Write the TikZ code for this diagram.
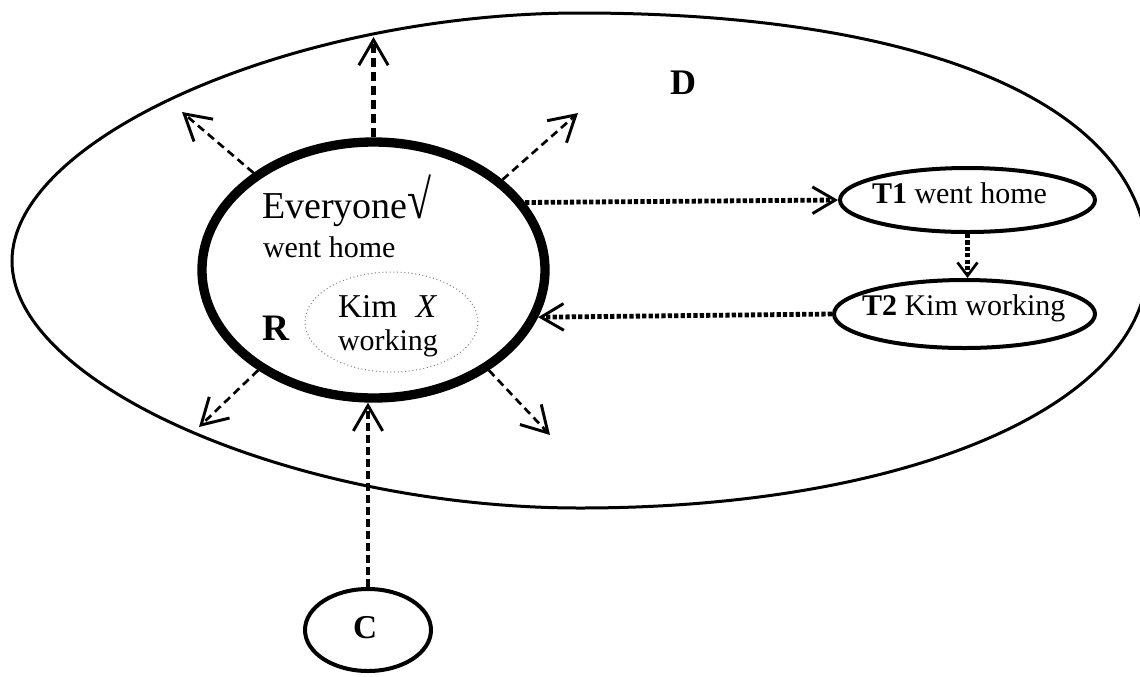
\documentclass[tikz,border=0pt]{standalone}
\usepackage{fontspec}
\setmainfont{Liberation Serif}
\usetikzlibrary{arrows.meta,shapes.geometric}
\begin{document}
\begin{tikzpicture}[x=0.75pt,y=-0.75pt,
  oval/.style={draw, ellipse, inner sep=0pt},
  lbl/.style={anchor=base west, inner sep=0pt, outer sep=0pt},
  bigbarb/.style={-{Straight Barb[length=19pt,width=22pt,line width=2.2pt]}},
  ray/.style={bigbarb, line width=2pt, dash pattern=on 6pt off 3.75pt},
  rayup/.style={bigbarb, line width=3.2pt, dash pattern=on 7pt off 3.5pt},
  rayc/.style={bigbarb, line width=2.3pt, dash pattern=on 6pt off 3pt},
  dotarrow/.style={-{Straight Barb[length=17pt,width=20pt,line width=2.2pt]}, line width=3.6pt, dash pattern=on 3.2pt off 1.6pt},
  dotshort/.style={-{Straight Barb[length=10pt,width=15pt,line width=2pt]}, line width=3.6pt, dash pattern=on 3.2pt off 1.6pt},
  txtA/.style={font=\fontsize{22.5}{24}\selectfont},
]
\useasboundingbox (0,0) rectangle (1140,676);
\fill[white] (0,0) rectangle (1140,676);

% outer region D
\begin{scope}
\clip (0,0) rectangle (1140,676);
\draw[line width=2.25pt]
  (12,261) .. controls (12,137) and (296,13) .. (580,13)
  .. controls (932,13) and (1148,108) .. (1148,263)
  .. controls (1148,405) and (909,508) .. (580,508)
  .. controls (296,508) and (12,385) .. (12,261) -- cycle;
\end{scope}

% nodes
\node[oval, line width=7pt, minimum width=257.25pt, minimum height=192pt] (R) at (373.5,270) {};
\node[oval, draw=gray, dotted, line width=0.75pt, minimum width=129.75pt, minimum height=75pt] (K) at (391.5,322) {};
\node[oval, line width=3pt, minimum width=191.25pt, minimum height=48pt] (T1) at (967.5,200) {};
\node[oval, line width=3pt, minimum width=195.75pt, minimum height=51pt] (T2) at (964.5,314) {};
\node[oval, line width=3pt, minimum width=94.5pt, minimum height=61.5pt] (C) at (368,630) {};

% labels
\node[lbl, font=\fontsize{28.5}{30}\selectfont] (ev) at (262,218) {Everyone\scalebox{1.15}[1.45]{\bfseries √}};
\node[lbl, txtA] (wh) at (263,257) {went home};
\node[lbl, font=\bfseries\fontsize{28}{30}\selectfont] (Rl) at (262,340) {R};
\node[lbl, font=\fontsize{25}{26}\selectfont] (kim) at (338,317) {Kim\hspace{14pt}\textit{X}};
\node[lbl, txtA] (wk) at (338,350) {working};
\node[lbl, font=\bfseries\fontsize{27}{29}\selectfont] (Dl) at (670,94) {D};
\node[lbl, font=\bfseries\fontsize{25}{27}\selectfont] (Cl) at (353,638) {C};
\node[lbl, txtA] (t1l) at (872,203) {\textbf{T1} went home};
\node[lbl, txtA] (t2l) at (862,315) {\textbf{T2} Kim working};

% free ends of the radiating arrows
\coordinate (aN) at (373.5,37);
\coordinate (aNW) at (182,112);
\coordinate (aNE) at (578,113);
\coordinate (aSW) at (199,427);
\coordinate (aSE) at (550,435);

% connectors
\draw[rayup] (R.north) -- (aN);
\draw[ray] (R.141) -- (aNW);
\draw[ray] (R.35) -- (aNE);
\draw[ray] (R.221) -- (aSW);
\draw[ray] (R.319) -- (aSE);
\draw[rayc] (C.north) -- (C.north |- R.south);
\draw[dotarrow] (R.24) -- (T1.west);
\draw[dotarrow] (T2.west) -- (R.344);
\draw[dotshort] (T1.south) -- (T1.south |- T2.north);
\end{tikzpicture}
\end{document}
